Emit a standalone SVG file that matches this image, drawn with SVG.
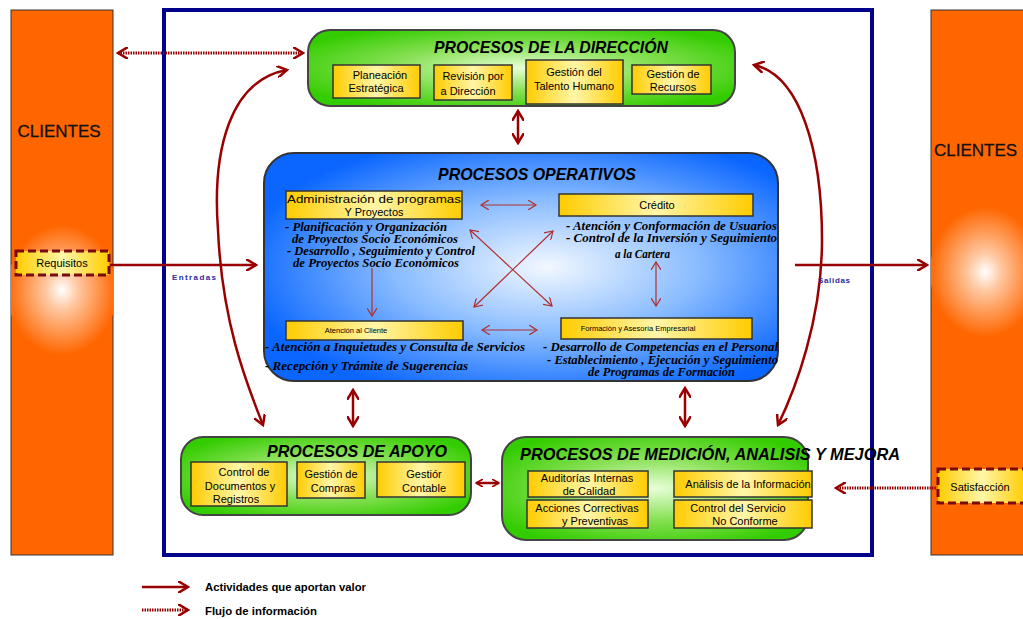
<svg xmlns="http://www.w3.org/2000/svg" width="1023" height="619" viewBox="0 0 1023 619">
<defs>
<radialGradient id="gOrange" cx="0.5" cy="0.5" r="0.5">
<stop offset="0" stop-color="#ffffff"/><stop offset="0.3" stop-color="#ffc7a0"/><stop offset="1" stop-color="#ff6600"/>
</radialGradient>
<radialGradient id="gGreen" cx="0.5" cy="0.5" r="0.6">
<stop offset="0" stop-color="#e8ffd8"/><stop offset="0.5" stop-color="#88e055"/><stop offset="1" stop-color="#33cc00"/>
</radialGradient>
<radialGradient id="gBlue" cx="0.55" cy="0.5" r="0.6">
<stop offset="0" stop-color="#f2f8ff"/><stop offset="0.5" stop-color="#88bbff"/><stop offset="1" stop-color="#0a66ff"/>
</radialGradient>
<linearGradient id="gYellow" x1="0" y1="0" x2="1" y2="0">
<stop offset="0" stop-color="#ffcc00"/><stop offset="0.5" stop-color="#fff6a8"/><stop offset="1" stop-color="#ffcc00"/>
</linearGradient>
<clipPath id="clipL"><rect x="11" y="10" width="102" height="545"/></clipPath>
<clipPath id="clipR"><rect x="931" y="10" width="100" height="545"/></clipPath>
<marker id="ah" markerWidth="8" markerHeight="8" refX="7" refY="4" orient="auto-start-reverse" markerUnits="userSpaceOnUse">
<path d="M0,0 L7,4 L0,8" fill="none" stroke="#990000" stroke-width="1.6"/>
</marker>
<marker id="ahs" markerWidth="10" markerHeight="10" refX="8" refY="5" orient="auto-start-reverse" markerUnits="userSpaceOnUse">
<path d="M0,0 L8,5 L0,10" fill="none" stroke="#b03030" stroke-width="1.2"/>
</marker>
<marker id="ahb" markerWidth="12" markerHeight="12" refX="10" refY="6" orient="auto-start-reverse" markerUnits="userSpaceOnUse">
<path d="M0,0 L10,6 L0,12" fill="none" stroke="#990000" stroke-width="2.5"/>
</marker>
</defs>
<style>
.cli{fill:#ff6600;stroke:#333;stroke-width:1}
.ybox{fill:url(#gYellow);stroke:#333;stroke-width:1.5}
.grn{fill:url(#gGreen);stroke:#444;stroke-width:2}
.bt{font-family:"Liberation Sans",Arial,sans-serif;font-size:11px;fill:#000;text-anchor:middle}
.sm{font-size:7.5px}
.ttl{font-family:"Liberation Sans",Arial,sans-serif;font-size:17px;font-style:italic;font-weight:bold;fill:#000;text-anchor:middle}
.bul{font-family:"Liberation Serif",serif;font-size:12px;font-style:italic;font-weight:bold;fill:#000}
.sol{fill:none;stroke:#990000;stroke-width:2.5}
.dot{fill:none;stroke:#990000;stroke-width:3;stroke-dasharray:1.5 1}
.thin{fill:none;stroke:#b03030;stroke-width:1.2}
.lbl{font-family:"Liberation Sans",Arial,sans-serif;font-size:8px;font-weight:bold;fill:#2a2aa0}
.leg{font-family:"Liberation Sans",Arial,sans-serif;font-size:10px;font-weight:bold;fill:#000}
.cl{font-family:"Liberation Sans",Arial,sans-serif;font-size:17px;fill:#111;stroke:#111;stroke-width:0.3}
</style>

<g id="clientes-izq">
<rect class="cli" x="11" y="10" width="102" height="545"/>
<ellipse cx="62" cy="290" rx="55" ry="65" fill="url(#gOrange)" clip-path="url(#clipL)"/>
<text class="cl" x="59" y="137" text-anchor="middle">CLIENTES</text>
</g>
<g id="clientes-der">
<rect class="cli" x="931" y="10" width="100" height="545"/>
<ellipse cx="985" cy="272" rx="55" ry="65" fill="url(#gOrange)" clip-path="url(#clipR)"/>
<text class="cl" x="934" y="156">CLIENTES</text>
</g>

<g id="marco">
<rect x="164" y="10" width="708" height="545" fill="#fff" stroke="#00008b" stroke-width="4"/>
</g>

<g id="requisitos">
<rect x="16" y="251" width="93" height="24" fill="url(#gYellow)" stroke="#7a0a10" stroke-width="3" stroke-dasharray="8 4"/>
<text class="bt" x="62" y="267">Requisitos</text>
</g>
<g id="satisfaccion">
<rect x="938" y="469" width="88" height="34" fill="url(#gYellow)" stroke="#7a0a10" stroke-width="3" stroke-dasharray="8 4"/>
<text class="bt" x="980" y="491">Satisfacción</text>
</g>

<g id="direccion">
<rect class="grn" x="308" y="30" width="427" height="76" rx="22"/>
<text class="ttl" x="551" y="53" textLength="234" lengthAdjust="spacingAndGlyphs">PROCESOS DE LA DIRECCIÓN</text>
<rect class="ybox" x="333" y="65" width="87" height="33"/>
<text class="bt" x="380" y="79">Planeación</text><text class="bt" x="376" y="92">Estratégica</text>
<rect class="ybox" x="434" y="65" width="78" height="35"/>
<text class="bt" x="473" y="80">Revisión por</text><text class="bt" x="468" y="95">a Dirección</text>
<rect class="ybox" x="526" y="60" width="97" height="44"/>
<text class="bt" x="574" y="76">Gestión del</text><text class="bt" x="574" y="90">Talento  Humano</text>
<rect class="ybox" x="632" y="65" width="79" height="29"/>
<text class="bt" x="673" y="78">Gestión de</text><text class="bt" x="673" y="91">Recursos</text>
</g>

<g id="operativos">
<rect x="264" y="153" width="514" height="228" rx="30" fill="url(#gBlue)" stroke="#333" stroke-width="2"/>
<text class="ttl" x="537" y="180" textLength="198" lengthAdjust="spacingAndGlyphs">PROCESOS OPERATIVOS</text>
<rect class="ybox" x="286" y="191" width="176" height="28"/>
<text class="bt" x="374" y="203" textLength="174" lengthAdjust="spacingAndGlyphs">Administración de programas</text>
<text class="bt" x="374" y="216">Y Proyectos</text>
<rect class="ybox" x="559" y="194" width="194" height="22"/>
<text class="bt" x="657" y="209">Crédito</text>
<text class="bul" x="285" y="231" textLength="162" lengthAdjust="spacingAndGlyphs">- Planificación y Organización</text>
<text class="bul" x="292" y="243" textLength="166" lengthAdjust="spacingAndGlyphs">de Proyectos Socio Económicos</text>
<text class="bul" x="287" y="255" textLength="188" lengthAdjust="spacingAndGlyphs">- Desarrollo , Seguimiento y Control</text>
<text class="bul" x="293" y="267" textLength="166" lengthAdjust="spacingAndGlyphs">de Proyectos Socio Económicos</text>
<text class="bul" x="566" y="230" textLength="211" lengthAdjust="spacingAndGlyphs">- Atención y Conformación de Usuarios</text>
<text class="bul" x="566" y="242" textLength="211" lengthAdjust="spacingAndGlyphs">- Control de la Inversión y Seguimiento</text>
<text class="bul" x="615" y="258" textLength="55" lengthAdjust="spacingAndGlyphs">a la Cartera</text>
<rect class="ybox" x="286" y="321" width="177" height="19"/>
<text class="bt sm" x="356" y="333">Atención al Cliente</text>
<rect class="ybox" x="561" y="318" width="191" height="21"/>
<text class="bt sm" x="638" y="331">Formación y Asesoría Empresarial</text>
<text class="bul" x="265" y="351" textLength="260" lengthAdjust="spacingAndGlyphs">- Atención a Inquietudes y Consulta de Servicios</text>
<text class="bul" x="265" y="370" textLength="203" lengthAdjust="spacingAndGlyphs">- Recepción y Trámite de Sugerencias</text>
<text class="bul" x="543" y="351" textLength="235" lengthAdjust="spacingAndGlyphs">- Desarrollo de Competencias en el Personal</text>
<text class="bul" x="547" y="364" textLength="231" lengthAdjust="spacingAndGlyphs">- Establecimiento , Ejecución y Seguimiento</text>
<text class="bul" x="588" y="376" textLength="147" lengthAdjust="spacingAndGlyphs">de Programas de Formación</text>
</g>

<g id="apoyo">
<rect class="grn" x="181" y="437" width="290" height="78" rx="22"/>
<text class="ttl" x="357" y="457" textLength="180" lengthAdjust="spacingAndGlyphs">PROCESOS DE APOYO</text>
<rect class="ybox" x="191" y="462" width="96" height="44"/>
<text class="bt" x="244" y="476">Control de</text><text class="bt" x="240" y="490">Documentos y</text><text class="bt" x="236" y="503">Registros</text>
<rect class="ybox" x="297" y="462" width="68" height="36"/>
<text class="bt" x="331" y="478">Gestión de</text><text class="bt" x="333" y="492">Compras</text>
<rect class="ybox" x="377" y="462" width="88" height="35"/>
<text class="bt" x="424" y="478">Gestiór</text><text class="bt" x="424" y="492">Contable</text>
</g>

<g id="medicion">
<rect class="grn" x="502" y="437" width="306" height="103" rx="24"/>
<text class="ttl" x="710" y="460" textLength="380" lengthAdjust="spacingAndGlyphs">PROCESOS DE MEDICIÓN, ANALISIS Y MEJORA</text>
<rect class="ybox" x="528" y="471" width="120" height="26"/>
<text class="bt" x="587" y="482">Auditorías Internas</text><text class="bt" x="589" y="495">de Calidad</text>
<rect class="ybox" x="674" y="471" width="138" height="26"/>
<text class="bt" x="748" y="488">Análisis de la Información</text>
<rect class="ybox" x="527" y="500" width="121" height="28"/>
<text class="bt" x="587" y="512">Acciones Correctivas</text><text class="bt" x="595" y="525">y Preventivas</text>
<rect class="ybox" x="674" y="500" width="138" height="28"/>
<text class="bt" x="738" y="512">Control del Servicio</text><text class="bt" x="745" y="525">No Conforme</text>
</g>

<g id="conectores">
<line class="dot" x1="118" y1="53" x2="303" y2="53" marker-start="url(#ahb)" marker-end="url(#ahb)"/>
<line class="sol" x1="518" y1="111" x2="518" y2="143" marker-start="url(#ahb)" marker-end="url(#ahb)"/>
<path class="sol" d="M287,70 C230,80 212,150 218,230 C222,320 245,380 263,425" marker-start="url(#ahb)" marker-end="url(#ahb)"/>
<path class="sol" d="M754,65 C800,75 822,150 822,240 C822,320 795,390 778,425" marker-start="url(#ahb)" marker-end="url(#ahb)"/>
<line class="sol" x1="353" y1="390" x2="353" y2="426" marker-start="url(#ahb)" marker-end="url(#ahb)"/>
<line class="sol" x1="685" y1="388" x2="685" y2="426" marker-start="url(#ahb)" marker-end="url(#ahb)"/>
<line class="sol" x1="476" y1="483" x2="499" y2="483" stroke-width="2" marker-start="url(#ah)" marker-end="url(#ah)"/>
<line class="sol" x1="110" y1="265" x2="256" y2="265" stroke-width="2" marker-end="url(#ahb)"/>
<line class="sol" x1="795" y1="265" x2="927" y2="265" stroke-width="2" marker-end="url(#ahb)"/>
<line class="dot" x1="936" y1="488" x2="836" y2="488" marker-end="url(#ahb)"/>
<line class="thin" x1="481" y1="205" x2="536" y2="205" marker-start="url(#ahs)" marker-end="url(#ahs)"/>
<line class="thin" x1="482" y1="330" x2="537" y2="330" marker-start="url(#ahs)" marker-end="url(#ahs)"/>
<line class="thin" x1="372" y1="268" x2="372" y2="316" marker-end="url(#ahs)"/>
<line class="thin" x1="656" y1="262" x2="656" y2="306" marker-start="url(#ahs)" marker-end="url(#ahs)"/>
<line class="thin" x1="470" y1="230" x2="552" y2="306" marker-start="url(#ahs)" marker-end="url(#ahs)"/>
<line class="thin" x1="474" y1="307" x2="553" y2="231" marker-start="url(#ahs)" marker-end="url(#ahs)"/>
<text class="lbl" x="172" y="280" textLength="44">Entradas</text>
<text class="lbl" x="818" y="283" textLength="32">Salidas</text>
</g>

<g id="leyenda">
<line class="sol" x1="142" y1="587" x2="188" y2="587" marker-end="url(#ahb)"/>
<text class="leg" x="205" y="591" textLength="161" lengthAdjust="spacingAndGlyphs">Actividades que aportan valor</text>
<line class="dot" x1="142" y1="610" x2="188" y2="610" marker-end="url(#ahb)"/>
<text class="leg" x="205" y="615" textLength="112" lengthAdjust="spacingAndGlyphs">Flujo de información</text>
</g>
</svg>
